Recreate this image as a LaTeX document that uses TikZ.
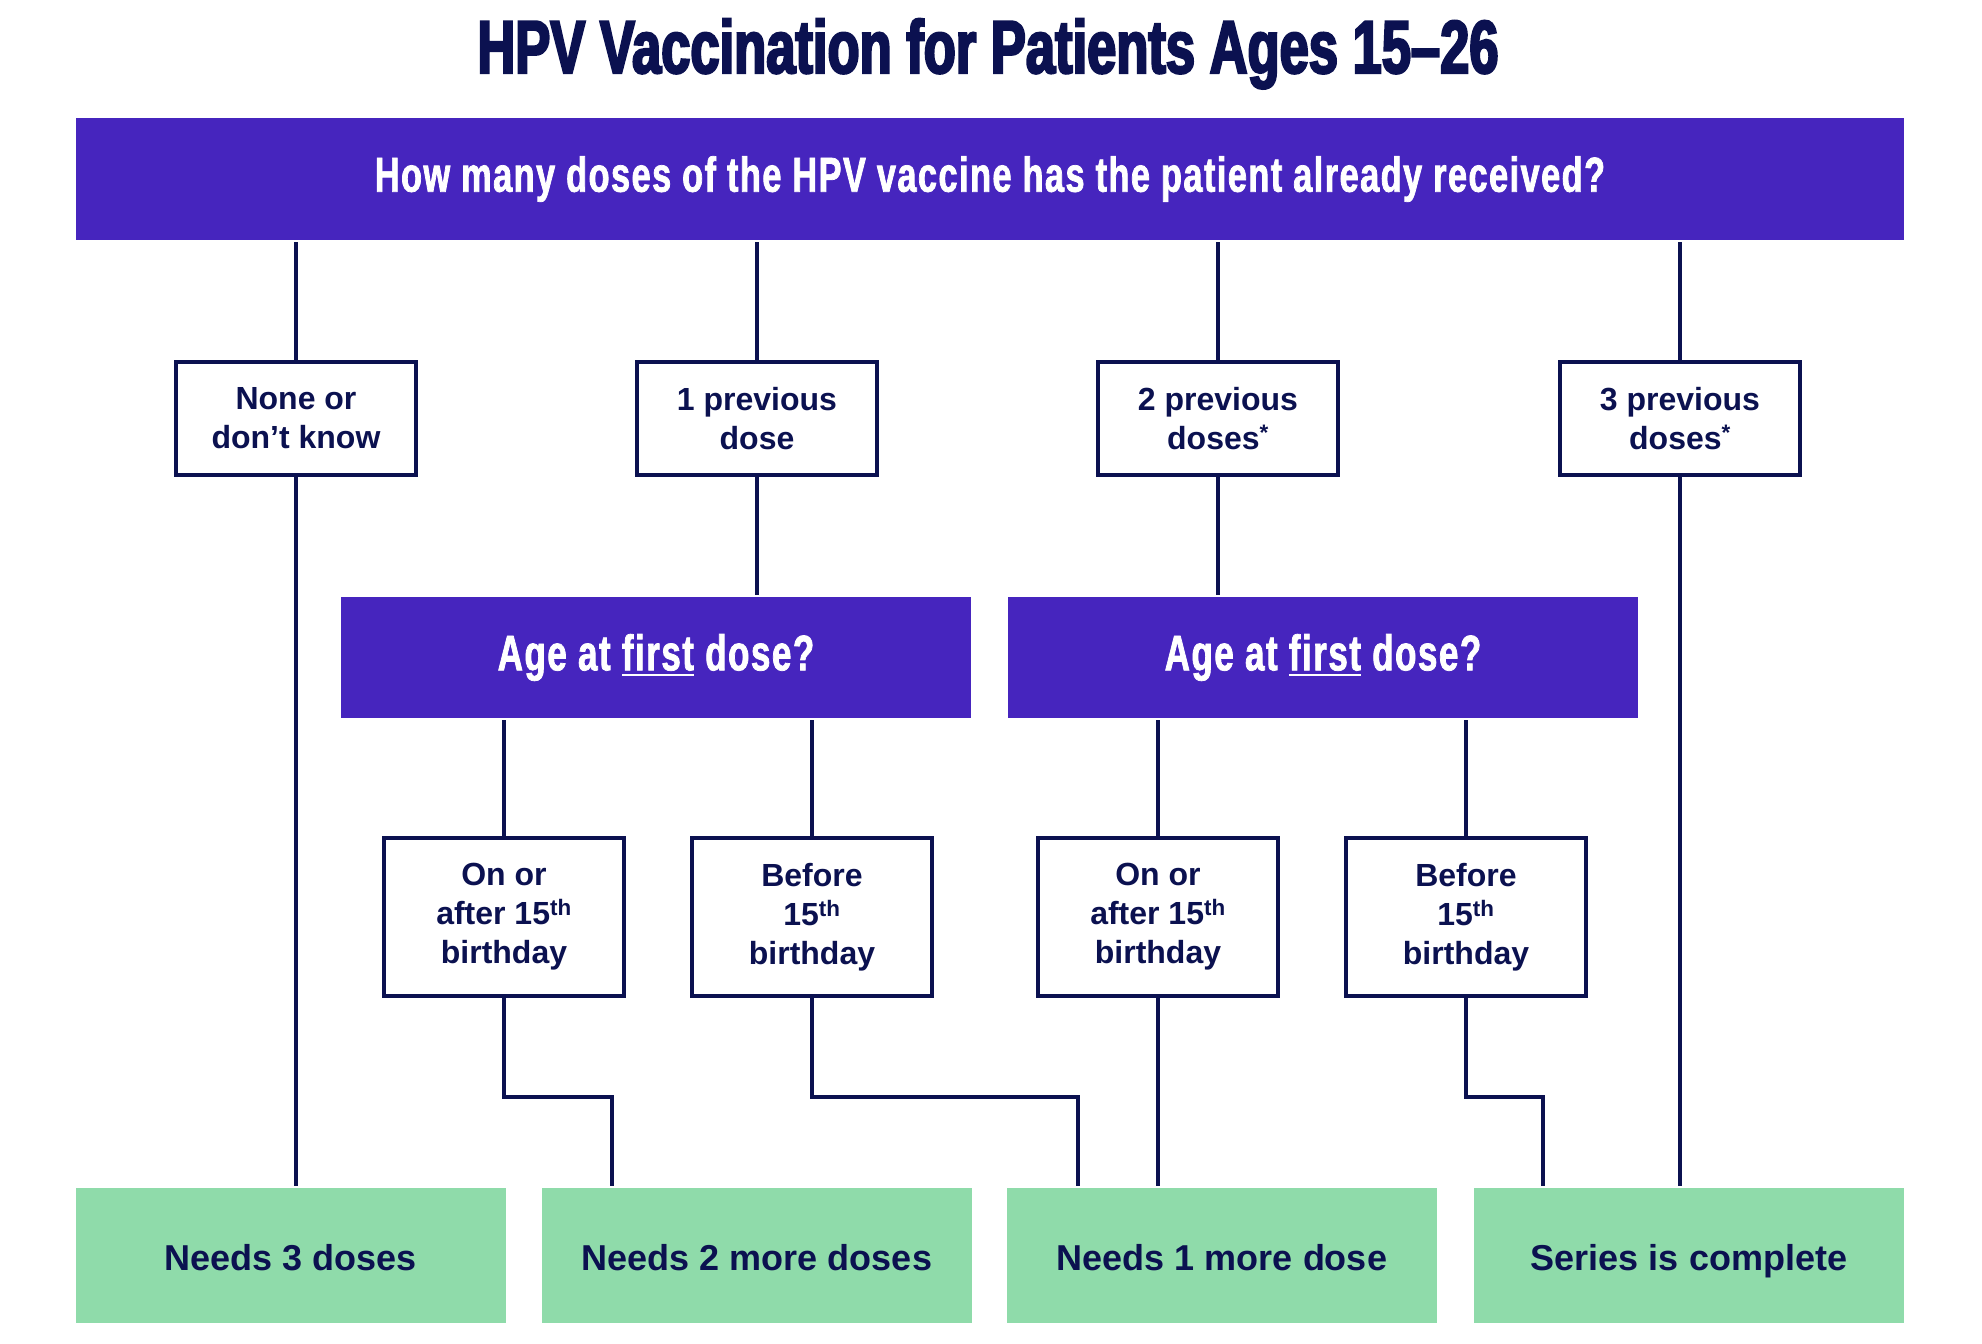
\documentclass[tikz,border=0pt]{standalone}
\usepackage{fontspec}
\setmainfont{Liberation Sans}
\newfontfamily\headfont[FakeStretch=0.7,FakeBold=3]{Liberation Sans Bold}
\newfontfamily\bannerfont[FakeStretch=0.7,FakeBold=1.5,LetterSpace=3]{Liberation Sans Bold}
\usepackage{xcolor}
\usetikzlibrary{positioning}

\definecolor{navy}{RGB}{11,17,80}
\definecolor{violet}{RGB}{70,37,190}
\definecolor{mint}{RGB}{143,219,170}

\newcommand{\undr}[1]{\setbox0\hbox{#1}\rlap{\rule[-6pt]{\wd0}{2.5pt}}\box0\relax}

\begin{document}
\begin{tikzpicture}[x=1pt, y=-1pt, line width=4pt, draw=navy,
  banner/.style={fill=violet, text=white, inner sep=0pt, font=\bannerfont},
  qbox/.style={draw=navy, line width=4.5pt, fill=white, text=navy, align=center, inner sep=0pt,
    minimum width=240pt, font=\bfseries\fontsize{32}{39}\selectfont},
  result/.style={fill=mint, text=navy, inner sep=0pt, minimum width=430pt, minimum height=135pt,
    text height=30pt, text depth=0pt, font=\bfseries\fontsize{36}{43}\selectfont}]
  \useasboundingbox (0,0) rectangle (1982,1344);
  \node[anchor=base, text=navy, font=\headfont\fontsize{75}{80}\selectfont] (title) at (988,73)
    {HPV Vaccination for Patients Ages 15–26};
  \node[banner, minimum width=1828pt, minimum height=122pt, font=\bannerfont\fontsize{49}{54}\selectfont] (q) at (990,179)
    {How many doses of the HPV vaccine has the patient already received?};
  % doses already received
  \node[qbox, minimum height=113pt] (n0) at (296,418.5) {None or\\don’t know};
  \node[qbox, minimum height=113pt] (n1) at (757,418.5) {1 previous\\dose};
  \node[qbox, minimum height=113pt] (n2) at (1218,418.5) {2 previous\\doses\textsuperscript{*}};
  \node[qbox, minimum height=113pt] (n3) at (1680,418.5) {3 previous\\doses\textsuperscript{*}};
  % age questions
  \node[banner, minimum width=630pt, minimum height=121pt, font=\bannerfont\fontsize{50}{55}\selectfont] (age1) at (656,657.5)
    {Age at \undr{first} dose?};
  \node[banner, minimum width=630pt, minimum height=121pt, font=\bannerfont\fontsize{50}{55}\selectfont] (age2) at (1323,657.5)
    {Age at \undr{first} dose?};
  \node[qbox, minimum height=158pt] (o1) at (504,917) {On or\\after 15\textsuperscript{th}\\birthday};
  \node[qbox, minimum height=158pt] (b1) at (812,917) {Before\\15\textsuperscript{th}\\birthday};
  \node[qbox, minimum height=158pt] (o2) at (1158,917) {On or\\after 15\textsuperscript{th}\\birthday};
  \node[qbox, minimum height=158pt] (b2) at (1466,917) {Before\\15\textsuperscript{th}\\birthday};
  % outcomes
  \node[result] (g0) at (291,1255.5) {Needs 3 doses};
  \node[result] (g1) at (757,1255.5) {Needs 2 more doses};
  \node[result] (g2) at (1222,1255.5) {Needs 1 more dose};
  \node[result] (g3) at (1689,1255.5) {Series is complete};
  % connectors
  \foreach \n in {n0,n1,n2,n3} \draw (q.south -| \n) -- (\n.north);
  \draw (n0.south) -- (n0.south |- g0.north);
  \draw (n1.south) -- (n1.south |- age1.north);
  \draw (n2.south) -- (n2.south |- age2.north);
  \draw (n3.south) -- (n3.south |- g3.north);
  \draw (age1.south -| o1) -- (o1.north); \draw (age1.south -| b1) -- (b1.north);
  \draw (age2.south -| o2) -- (o2.north); \draw (age2.south -| b2) -- (b2.north);
  \draw (o1.south) -- ++(0,99) -| ([xshift=-145pt]g1.north);
  \draw (b1.south) -- ++(0,99) -| ([xshift=-144pt]g2.north);
  \draw (o2.south) -- (o2.south |- g2.north);
  \draw (b2.south) -- ++(0,99) -| ([xshift=-146pt]g3.north);
\end{tikzpicture}
\end{document}
